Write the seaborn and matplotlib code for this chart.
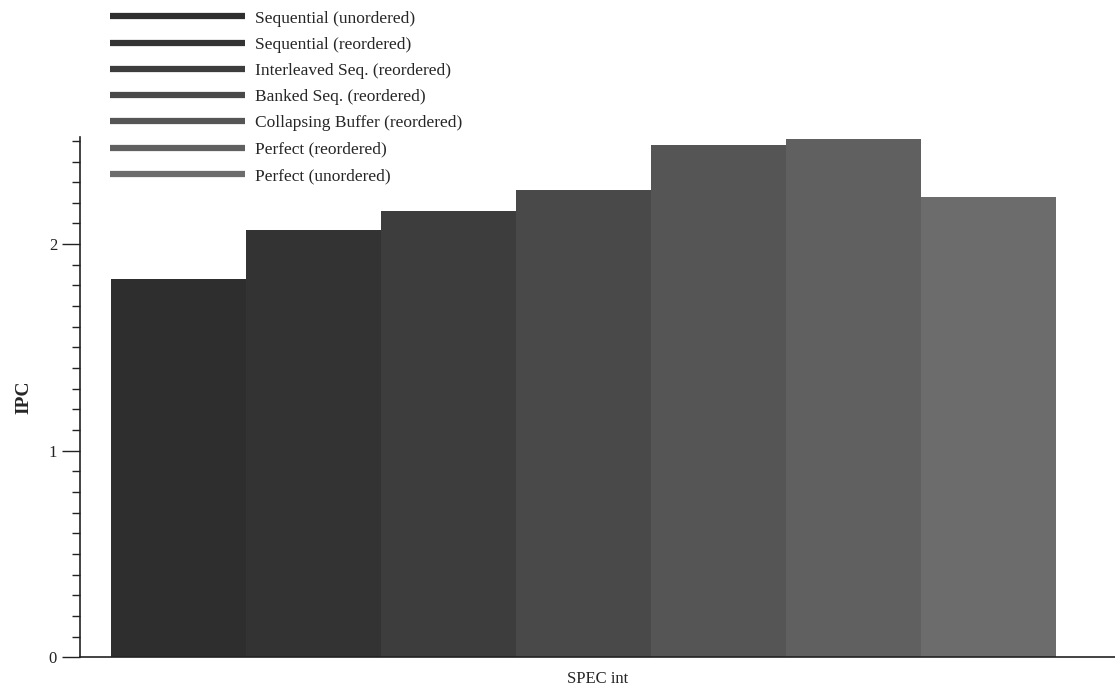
import seaborn as sns
import matplotlib.pyplot as plt
import pandas as pd
from matplotlib.lines import Line2D
from matplotlib.ticker import MultipleLocator

configs = ['Sequential (unordered)', 'Sequential (reordered)',
           'Interleaved Seq. (reordered)', 'Banked Seq. (reordered)',
           'Collapsing Buffer (reordered)', 'Perfect (reordered)',
           'Perfect (unordered)']
ipc = [1.83, 2.07, 2.16, 2.26, 2.48, 2.51, 2.23]
greys = ['#2e2e2e', '#333333', '#3d3d3d', '#494949', '#555555', '#606060', '#6c6c6c']

sns.set_theme(style='ticks')
plt.rcParams['font.family'] = ['Liberation Serif', 'DejaVu Serif']

df = pd.DataFrame({'config': configs, 'ipc': ipc})

fig = plt.figure(figsize=(11.15, 6.94), dpi=100)
ax = fig.add_axes([0.0717, 0.053, 0.9283, 0.75])

sns.barplot(data=df, x='config', y='ipc', hue='config', palette=greys,
            width=1.0, linewidth=0, legend=False, ax=ax)

ax.set_xlim(-0.73, 6.94)
ax.set_ylim(0, 2.52)
ax.yaxis.set_major_locator(MultipleLocator(1))
ax.yaxis.set_minor_locator(MultipleLocator(0.1))
ax.tick_params(axis='y', which='major', length=13, width=1, labelsize=12, colors='#222222')
ax.tick_params(axis='y', which='minor', length=6, width=1, color='#222222')
ax.set_xticks([])
ax.set_xlabel('SPEC int', fontsize=12, labelpad=10)
ax.set_ylabel('IPC', fontsize=14, fontweight='bold', labelpad=12)
for s in ['top', 'right']:
    ax.spines[s].set_visible(False)
for s in ['left', 'bottom']:
    ax.spines[s].set_color('#222222')
    ax.spines[s].set_linewidth(1.2)

handles = [Line2D([0], [0], color=c, lw=4.5, solid_capstyle='butt') for c in greys]
fig.legend(handles, configs, loc='upper left', bbox_to_anchor=(0.0925, 0.995),
           frameon=False, fontsize=12.5, handlelength=7.8, handletextpad=0.55,
           labelspacing=0.58, borderaxespad=0)

fig.savefig('out.png', dpi=100)
